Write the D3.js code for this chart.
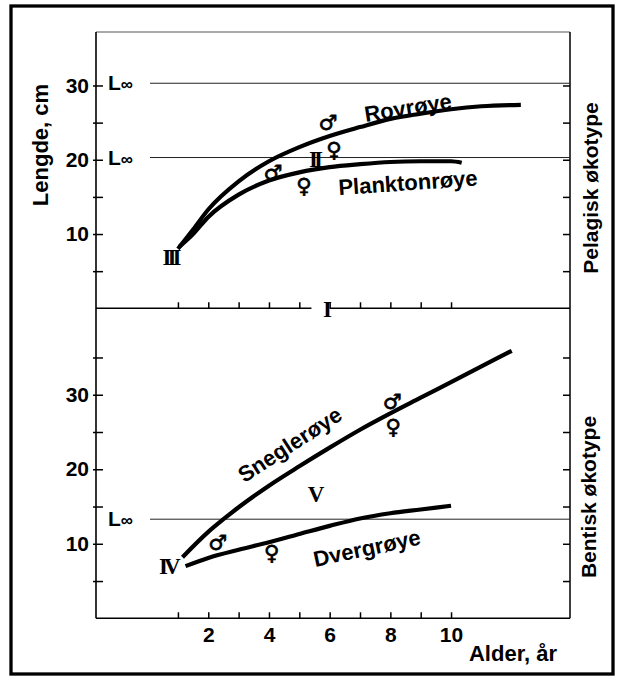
<!DOCTYPE html>
<html>
<head>
  <meta charset="utf-8">
  <title>Lengde og alder, røye</title>
  <script src="https://d3js.org/d3.v7.min.js"></script>
  <style>
    body { margin: 0; background: #fff; }
    text { font-family: "Liberation Sans", Arial, sans-serif; font-weight: bold; fill: #000; }
    .roman { font-family: "Liberation Serif", "DejaVu Serif", serif; font-weight: bold; }
    .sym { font-family: "DejaVu Sans", sans-serif; font-weight: bold; stroke: #000; stroke-width: 0.7; }
    .axis path, .axis line { stroke: #000; stroke-width: 1.5; }
    .curve { fill: none; stroke: #000; stroke-width: 4.2; }
    .linf { stroke: #222; stroke-width: 1; }
  </style>
</head>
<body>
  <svg id="chart"></svg>

  <script>
    // Alder (år) og lengde (cm) lest av figuren
    const rovroye = [[1.0, 8.0], [1.5, 10.6], [2, 13.3], [3, 17.1], [4, 19.8], [5, 21.7], [6, 23.2],
                     [7, 24.4], [8, 25.5], [9, 26.2], [10, 26.8], [11, 27.2], [12.3, 27.4]];
    const planktonroye = [[1.05, 8.3], [1.5, 10.0], [2, 12.3], [3, 15.3], [4, 17.2], [5, 18.3], [6, 19.0],
                          [7, 19.4], [8, 19.7], [9, 19.8], [10, 19.8], [10.35, 19.6]];
    const snegleroye = [[1.15, 8.2], [2, 11.6], [2.5, 13.3], [3, 14.9], [4, 17.8], [5, 20.4], [6, 22.9],
                        [7, 25.3], [8, 27.5], [9, 29.6], [10, 31.7], [11, 33.8], [12, 35.9]];
    const dvergroye = [[1.25, 7.0], [2, 8.1], [3, 9.2], [4, 10.2], [5, 11.3], [6, 12.4], [7, 13.4],
                       [8, 14.1], [9, 14.6], [10, 15.1]];

    const linfTop = [30.3, 20.3];
    const linfBottom = [13.3];

    const xTicks = [1, 2, 3, 4, 5, 6, 7, 8, 9, 10];
    const xLabels = [2, 4, 6, 8, 10];
    const yTicksTop = [5, 10, 15, 20, 25, 30];
    const yTicksBottom = [5, 10, 15, 20, 25, 30, 35];
    const yLabelsTop = [10, 20, 30];
    const yLabelsBottom = [10, 20, 30];

    // merknader: [alder, lengde, tekst]
    const notesTop = [
      [5.94, 24.9, "♂", "sym"], [6.14, 21.3, "♀", "sym"], [4.13, 18.2, "♂", "sym"],
      [5.15, 16.5, "♀", "sym"], [5.42, 20.1, "II", "roman"], [0.67, 6.9, "III", "roman"],
      [5.8, -0.2, "I", "roman"]
    ];
    const notesBottom = [
      [0.6, 6.9, "IV", "roman"], [5.42, 16.6, "V", "roman"], [2.31, 10.1, "♂", "sym"],
      [4.09, 8.8, "♀", "sym"], [8.06, 29.0, "♂", "sym"], [8.09, 25.7, "♀", "sym"]
    ];
    const curveLabelsTop = [[8.58, 27.0, "Rovrøye", -9], [8.58, 16.9, "Planktonrøye", -4]];
    const curveLabelsBottom = [[4.69, 23.3, "Sneglerøye", -33], [7.23, 9.4, "Dvergrøye", -12]];

    const width = 621, height = 680;
    const left = 96, right = 570;

    const svg = d3.select("#chart").attr("width", width).attr("height", height);

    // ramme
    svg.append("rect")
       .attr("x", 11).attr("y", 6).attr("width", 602).attr("height", 668)
       .attr("fill", "none").attr("stroke", "#000").attr("stroke-width", 3.3);

    const x = d3.scaleLinear().domain([-1.7, 13.92]).range([left, right]);
    const yTop = d3.scaleLinear().domain([0, 37.2]).range([308.3, 32]);
    const yBot = d3.scaleLinear().domain([0, 41.6]).range([618.3, 308.3]);

    // topp-kant og sideakser
    svg.append("line").attr("x1", left).attr("x2", right).attr("y1", yTop(37.2)).attr("y2", yTop(37.2))
       .attr("stroke", "#555").attr("stroke-width", 1);
    svg.append("line").attr("x1", left).attr("x2", left).attr("y1", yTop(37.2)).attr("y2", yBot(0))
       .attr("stroke", "#000").attr("stroke-width", 1.6);
    svg.append("line").attr("x1", right).attr("x2", right).attr("y1", yTop(37.2)).attr("y2", yBot(0))
       .attr("stroke", "#000").attr("stroke-width", 1.5);

    function panel(y, ticks, labels, linf, curves, notes, clabels) {
      // venstre akse: merker innover, tall på utsiden
      svg.append("g").attr("class", "axis")
         .attr("transform", `translate(${left},0)`)
         .call(d3.axisLeft(y).tickValues(ticks).tickSizeInner(-7).tickSizeOuter(0).tickPadding(7)
                 .tickFormat(d => labels.includes(d) ? d : ""))
         .call(g => g.select(".domain").remove())
         .call(g => g.selectAll("text").attr("font-size", 21).attr("font-family", null).attr("fill", "#000"))
         .call(g => g.selectAll("line").attr("x1", -3));

      // høyre akse
      svg.append("g").attr("class", "axis")
         .attr("transform", `translate(${right},0)`)
         .call(d3.axisRight(y).tickValues(ticks).tickSizeInner(-7).tickSizeOuter(0).tickFormat(""))
         .call(g => g.select(".domain").remove());

      // L-uendelig
      linf.forEach(v => {
        svg.append("line").attr("class", "linf")
           .attr("x1", x(0.08)).attr("x2", right).attr("y1", y(v)).attr("y2", y(v));
        const t = svg.append("text").attr("x", 108).attr("y", y(v) + 7).attr("font-size", 21);
        t.append("tspan").text("L");
        t.append("tspan").attr("font-size", 17).text("∞");
      });

      const line = d3.line().x(d => x(d[0])).y(d => y(d[1])).curve(d3.curveMonotoneX);
      curves.forEach(c => svg.append("path").attr("class", "curve").attr("d", line(c)));

      notes.forEach(n => {
        const roman = n[3] === "roman";
        svg.append("text").attr("class", n[3])
           .attr("x", x(n[0]) + (roman ? 2 : 0)).attr("y", y(n[1]))
           .attr("text-anchor", "middle").attr("dominant-baseline", "central")
           .attr("font-size", roman ? 23 : 21)
           .attr("letter-spacing", roman ? -4 : 0)
           .text(n[2]);
      });

      clabels.forEach(c => {
        svg.append("text")
           .attr("transform", `translate(${x(c[0])},${y(c[1])}) rotate(${c[3]})`)
           .attr("text-anchor", "middle").attr("dominant-baseline", "central")
           .attr("font-size", 22)
           .text(c[2]);
      });
    }

    panel(yTop, yTicksTop, yLabelsTop, linfTop, [rovroye, planktonroye], notesTop, curveLabelsTop);
    panel(yBot, yTicksBottom, yLabelsBottom, linfBottom, [snegleroye, dvergroye], notesBottom, curveLabelsBottom);

    // skillelinje med åpning for "I"
    svg.append("line").attr("stroke", "#000").attr("stroke-width", 1.5)
       .attr("x1", left).attr("x2", x(5.4)).attr("y1", yTop(0)).attr("y2", yTop(0));
    svg.append("line").attr("stroke", "#000").attr("stroke-width", 1.5)
       .attr("x1", x(6.0)).attr("x2", right).attr("y1", yTop(0)).attr("y2", yTop(0));
    svg.append("g").attr("class", "axis")
       .attr("transform", `translate(0,${yTop(0)})`)
       .call(d3.axisBottom(x).tickValues(xTicks).tickSizeInner(-6).tickSizeOuter(0).tickFormat(""))
       .call(g => g.select(".domain").remove());

    // x-akse nederst
    svg.append("g").attr("class", "axis")
       .attr("transform", `translate(0,${yBot(0)})`)
       .call(d3.axisBottom(x).tickValues(xTicks).tickSizeInner(-6).tickSizeOuter(0).tickPadding(9)
               .tickFormat(d => xLabels.includes(d) ? d : ""))
       .call(g => g.select(".domain").attr("d", `M${left},0H${right}`))
       .call(g => g.selectAll("text").attr("font-size", 21).attr("font-family", null).attr("fill", "#000"));

    // aksetitler
    svg.append("text").attr("x", 557).attr("y", 661).attr("text-anchor", "end")
       .attr("font-size", 22).text("Alder, år");
    svg.append("text").attr("transform", "translate(40,145) rotate(-90)")
       .attr("text-anchor", "middle").attr("dominant-baseline", "central")
       .attr("font-size", 22).text("Lengde, cm");
    svg.append("text").attr("transform", "translate(590,188) rotate(-90)")
       .attr("text-anchor", "middle").attr("dominant-baseline", "central")
       .attr("font-size", 21).text("Pelagisk økotype");
    svg.append("text").attr("transform", "translate(588,497) rotate(-90)")
       .attr("text-anchor", "middle").attr("dominant-baseline", "central")
       .attr("font-size", 21).text("Bentisk økotype");
  </script>
</body>
</html>
